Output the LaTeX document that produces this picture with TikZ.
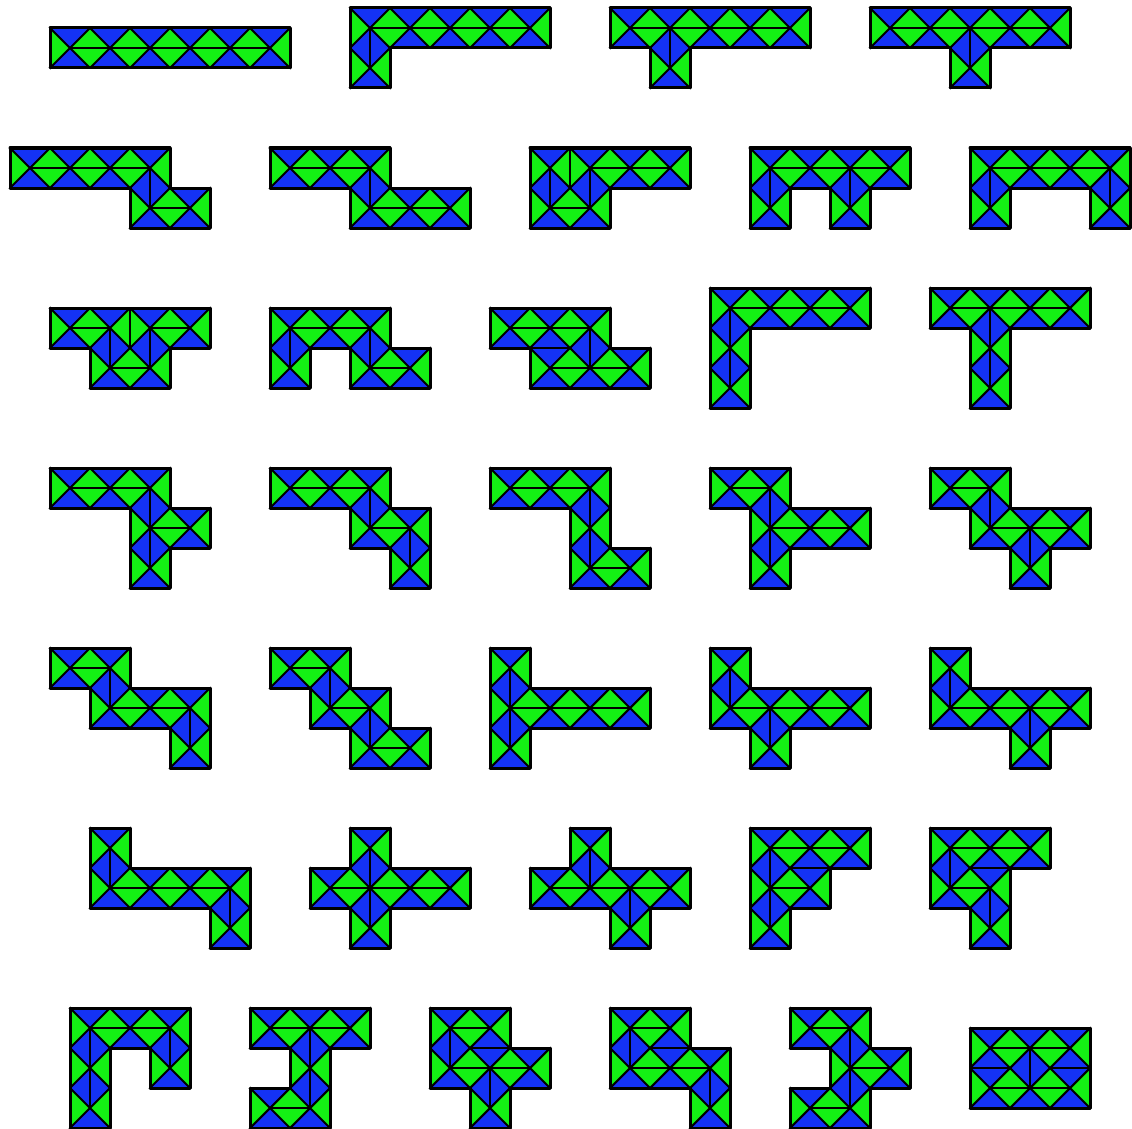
\documentclass[tikz,border=0pt]{standalone}
\definecolor{tg}{RGB}{20,240,20}
\definecolor{tb}{RGB}{20,50,245}
\tikzset{
  dl/.style={line width=2.1pt,black},
  ol/.style={line width=3pt,black,line cap=round}
}
\def\allcells{%
50/28,90/28,130/28,170/28,210/28,250/28,%
350/8,390/8,430/8,470/8,510/8,350/48,%
610/8,650/8,690/8,730/8,770/8,650/48,%
870/8,910/8,950/8,990/8,1030/8,950/48,%
10/148,50/148,90/148,130/148,130/188,170/188,%
270/148,310/148,350/148,350/188,390/188,430/188,%
530/148,570/148,610/148,650/148,530/188,570/188,%
750/148,790/148,830/148,870/148,750/188,830/188,%
970/148,1010/148,1050/148,1090/148,970/188,1090/188,%
50/308,90/308,130/308,170/308,90/348,130/348,%
270/308,310/308,350/308,270/348,350/348,390/348,%
490/308,530/308,570/308,530/348,570/348,610/348,%
710/288,750/288,790/288,830/288,710/328,710/368,%
930/288,970/288,1010/288,1050/288,970/328,970/368,%
50/468,90/468,130/468,130/508,170/508,130/548,%
270/468,310/468,350/468,350/508,390/508,390/548,%
490/468,530/468,570/468,570/508,570/548,610/548,%
710/468,750/468,750/508,790/508,830/508,750/548,%
930/468,970/468,970/508,1010/508,1050/508,1010/548,%
50/648,90/648,90/688,130/688,170/688,170/728,%
270/648,310/648,310/688,350/688,350/728,390/728,%
490/648,490/688,490/728,530/688,570/688,610/688,%
710/648,710/688,750/688,790/688,830/688,750/728,%
930/648,930/688,970/688,1010/688,1050/688,1010/728,%
90/828,90/868,130/868,170/868,210/868,210/908,%
350/828,310/868,350/868,390/868,430/868,350/908,%
570/828,530/868,570/868,610/868,650/868,610/908,%
750/828,790/828,830/828,750/868,790/868,750/908,%
930/828,970/828,1010/828,930/868,970/868,970/908,%
70/1008,110/1008,150/1008,70/1048,150/1048,70/1088,%
250/1008,290/1008,330/1008,290/1048,250/1088,290/1088,%
430/1008,470/1008,430/1048,470/1048,510/1048,470/1088,%
610/1008,650/1008,610/1048,650/1048,690/1048,690/1088,%
790/1008,830/1008,830/1048,870/1048,790/1088,830/1088,%
970/1028,1010/1028,1050/1028,970/1068,1010/1068,1050/1068}
\def\allwalls{%
530/148/570/148,90/308/130/308,530/308/530/348,790/828/790/868,%
970/828/970/868,470/1008/470/1048,650/1008/650/1048,%
970/1028/970/1068,1050/1028/1050/1068}
\begin{document}
\begin{tikzpicture}[x=1pt,y=-1pt]
\useasboundingbox (0,0) rectangle (1132,1129);
\foreach \x/\y in \allcells {\expandafter\gdef\csname occ@\x @\y\endcsname{}}
\foreach \a/\b/\c/\d in \allwalls {\expandafter\gdef\csname wall@\a @\b @\c @\d\endcsname{}}
% triangles
\foreach \x/\y in \allcells {
  \fill[tg] (\x,\y) -- (\x+20,\y+20) -- (\x,\y+40) -- cycle;
  \fill[tg] (\x+40,\y) -- (\x+20,\y+20) -- (\x+40,\y+40) -- cycle;
  \fill[tb] (\x,\y) -- (\x+20,\y+20) -- (\x+40,\y) -- cycle;
  \fill[tb] (\x,\y+40) -- (\x+20,\y+20) -- (\x+40,\y+40) -- cycle;
}
% diagonals
\foreach \x/\y in \allcells {
  \draw[dl] (\x,\y) -- (\x+40,\y+40) (\x+40,\y) -- (\x,\y+40);
}
% adjacencies: path link or wall
\foreach \x/\y in \allcells {
  \edef\nx{\the\numexpr\x+40\relax}%
  \edef\ny{\the\numexpr\y+40\relax}%
  \ifcsname occ@\nx @\y\endcsname
    \ifcsname wall@\x @\y @\nx @\y\endcsname
      \draw[dl] (\nx,\y) -- (\nx,\ny);
    \else
      \draw[dl] (\x+20,\y+20) -- (\nx+20,\y+20);
    \fi
  \fi
  \ifcsname occ@\x @\ny\endcsname
    \ifcsname wall@\x @\y @\x @\ny\endcsname
      \draw[dl] (\x,\ny) -- (\nx,\ny);
    \else
      \draw[dl] (\x+20,\y+20) -- (\x+20,\ny+20);
    \fi
  \fi
}
% outlines
\foreach \x/\y in \allcells {
  \edef\nx{\the\numexpr\x+40\relax}%
  \edef\ny{\the\numexpr\y+40\relax}%
  \edef\px{\the\numexpr\x-40\relax}%
  \edef\py{\the\numexpr\y-40\relax}%
  \ifcsname occ@\px @\y\endcsname\else \draw[ol] (\x,\y) -- (\x,\ny); \fi
  \ifcsname occ@\nx @\y\endcsname\else \draw[ol] (\nx,\y) -- (\nx,\ny); \fi
  \ifcsname occ@\x @\py\endcsname\else \draw[ol] (\x,\y) -- (\nx,\y); \fi
  \ifcsname occ@\x @\ny\endcsname\else \draw[ol] (\x,\ny) -- (\nx,\ny); \fi
}
\end{tikzpicture}
\end{document}
